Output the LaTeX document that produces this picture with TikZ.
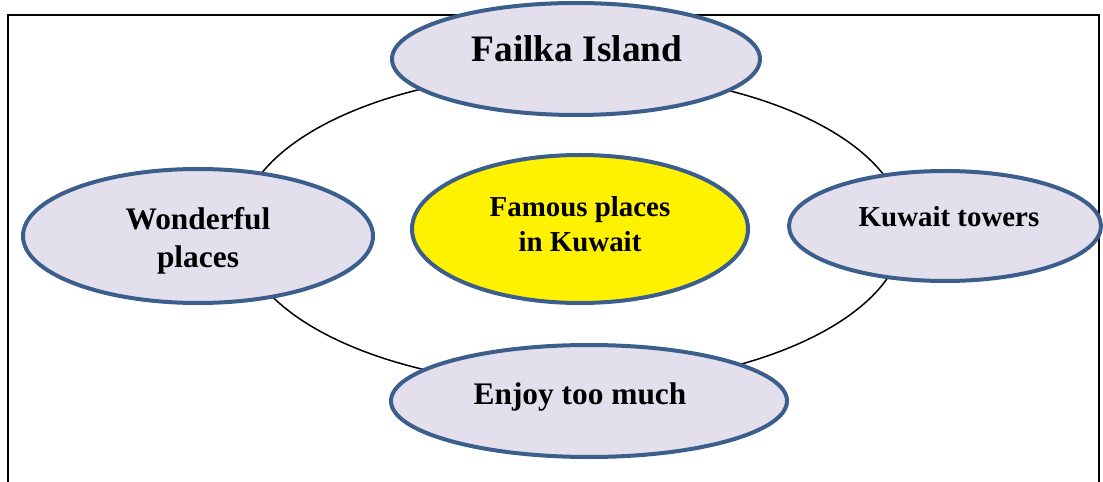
\documentclass[tikz,border=0pt]{standalone}
\usepackage{fontspec}
\setmainfont{Liberation Serif}
\usetikzlibrary{shapes.geometric}
\definecolor{placefill}{HTML}{E4DFEC}
\definecolor{placeline}{HTML}{3B5E8C}
\tikzset{
  place/.style={ellipse, draw=placeline, line width=4bp, fill=placefill, inner sep=0pt},
  placetext/.style={font=\bfseries, align=center, inner sep=0pt}
}
\begin{document}
\begin{tikzpicture}[x=1bp, y=-1bp]
  \useasboundingbox (0,0) rectangle (1103,482);
  \draw[line width=2bp] (8,495) -- (8,15) -- (1099,15) -- (1099,495);
  \draw[line width=1.5bp] (572,229) ellipse [x radius=332, y radius=157];

  \node[place, minimum width=368bp, minimum height=112bp] (failka) at (576,59) {};
  \node[place, minimum width=350bp, minimum height=134bp] (wonderful) at (198,236) {};
  \node[place, fill=yellow, minimum width=336bp, minimum height=148bp] (famous) at (580,229) {};
  \node[place, minimum width=312bp, minimum height=110bp] (towers) at (945,226) {};
  \node[place, minimum width=396bp, minimum height=112bp] (enjoy) at (589,401) {};

  \node[placetext, anchor=base] (failkatext) at (577,62) {\fontsize{37.5}{45}\selectfont Failka Island};
  \node[placetext, font=\bfseries\fontsize{31.5}{38}\selectfont] (wonderfultext) at (198,241) {Wonderful\\places};
  \node[placetext, font=\bfseries\fontsize{29}{35}\selectfont] (famoustext) at (580,224) {Famous places\\in Kuwait};
  \node[placetext, anchor=base] (towerstext) at (949,227) {\fontsize{29}{35}\selectfont Kuwait towers};
  \node[placetext, anchor=base] (enjoytext) at (580,404) {\fontsize{31.5}{38}\selectfont Enjoy too much};
\end{tikzpicture}
\end{document}
